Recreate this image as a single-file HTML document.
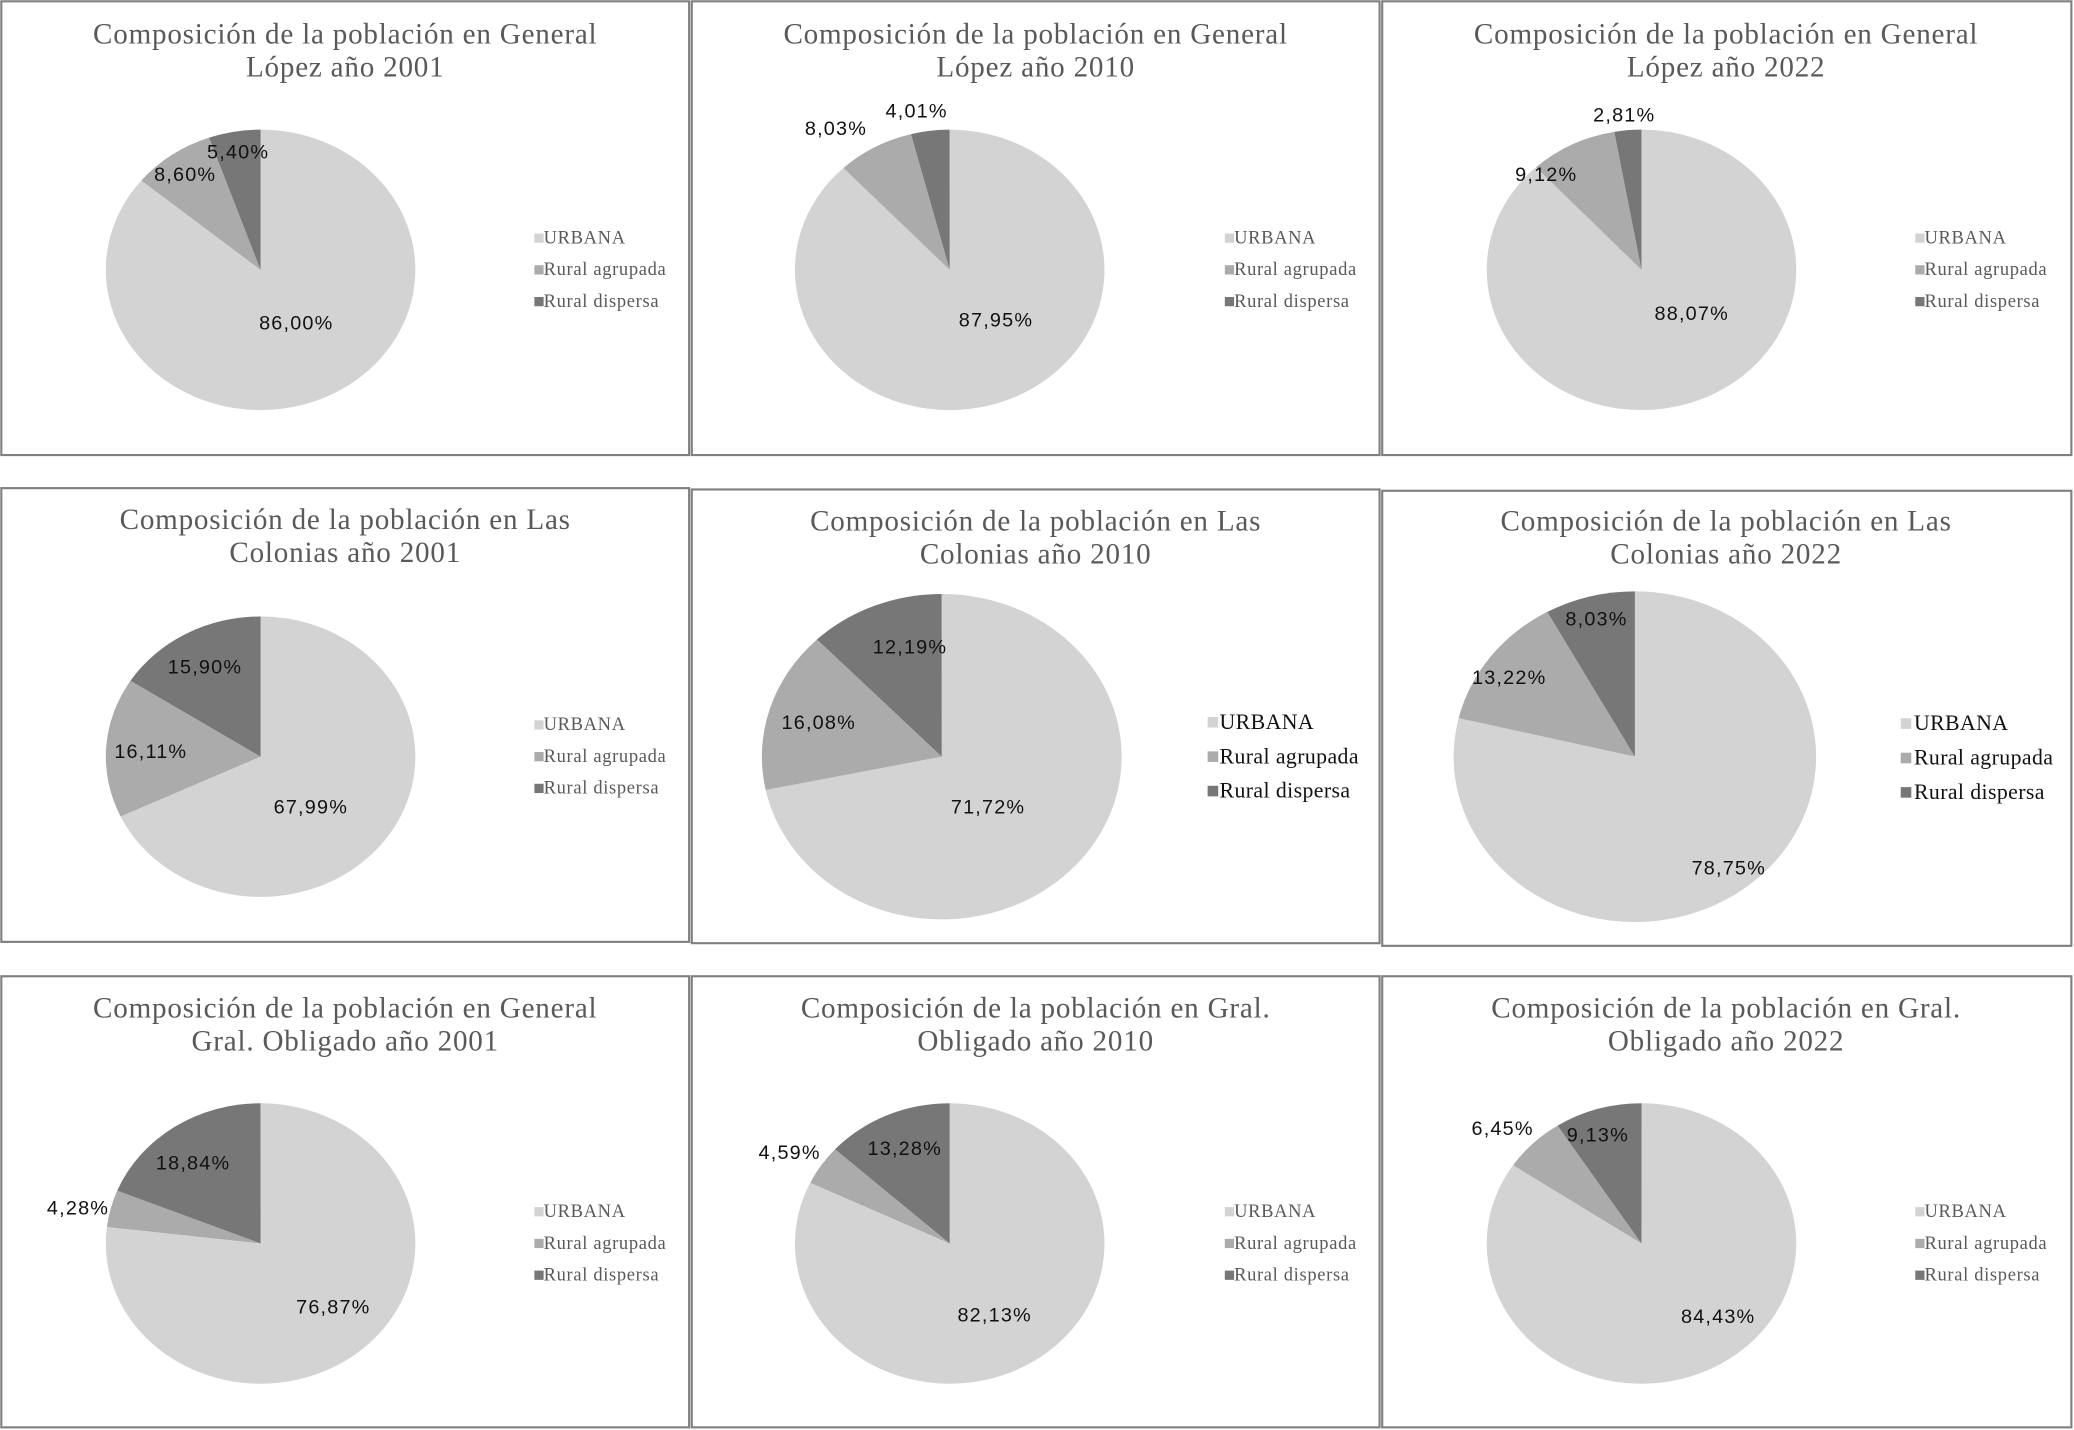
<!DOCTYPE html>
<html><head><meta charset="utf-8"><style>
html,body{margin:0;padding:0;background:#fff;}
svg{display:block}
.t{font-family:"Liberation Serif",serif;font-size:22px;letter-spacing:0.6px;fill:#595959;text-anchor:middle}
.l{font-family:"Liberation Sans",sans-serif;font-size:15px;letter-spacing:0.9px;fill:#111;text-anchor:middle}
.g{font-family:"Liberation Serif",serif;font-size:14px;letter-spacing:0.5px;fill:#595959}
.g2{font-family:"Liberation Serif",serif;font-size:16.5px;letter-spacing:0.3px;fill:#111}
</style></head><body>
<svg id="s" width="2074" height="1430" viewBox="0 0 1568 1081" preserveAspectRatio="none" xmlns="http://www.w3.org/2000/svg">
<g fill="none" stroke="#7f7f7f" stroke-width="1.6">
<rect x="1" y="1" width="520" height="343"/><rect x="523" y="1" width="520" height="343"/><rect x="1045" y="1" width="521" height="343"/>
<rect x="1" y="369" width="520" height="343"/><rect x="523" y="370" width="520" height="343"/><rect x="1045" y="371" width="521" height="344"/>
<rect x="1" y="738" width="520" height="341"/><rect x="523" y="738" width="520" height="341"/><rect x="1045" y="738" width="521" height="341"/>
</g>
<g id="pies"></g>
<text class="t" x="261" y="33">Composición de la población en General</text><text class="t" x="261" y="58">López año 2001</text>
<text class="t" x="783" y="33">Composición de la población en General</text><text class="t" x="783" y="58">López año 2010</text>
<text class="t" x="1305" y="33">Composición de la población en General</text><text class="t" x="1305" y="58">López año 2022</text>
<text class="t" x="261" y="400">Composición de la población en Las</text><text class="t" x="261" y="425">Colonias año 2001</text>
<text class="t" x="783" y="401">Composición de la población en Las</text><text class="t" x="783" y="426">Colonias año 2010</text>
<text class="t" x="1305" y="401">Composición de la población en Las</text><text class="t" x="1305" y="426">Colonias año 2022</text>
<text class="t" x="261" y="769">Composición de la población en General</text><text class="t" x="261" y="794">Gral. Obligado año 2001</text>
<text class="t" x="783" y="769">Composición de la población en Gral.</text><text class="t" x="783" y="794">Obligado año 2010</text>
<text class="t" x="1305" y="769">Composición de la población en Gral.</text><text class="t" x="1305" y="794">Obligado año 2022</text>
<g class="l">
<text x="180" y="120">5,40%</text><text x="140" y="137">8,60%</text><text x="224" y="249">86,00%</text>
<text x="632" y="102">8,03%</text><text x="693" y="89">4,01%</text><text x="753" y="247">87,95%</text>
<text x="1169" y="137">9,12%</text><text x="1228" y="92">2,81%</text><text x="1279" y="242">88,07%</text>
<text x="155" y="509">15,90%</text><text x="114" y="573">16,11%</text><text x="235" y="615">67,99%</text>
<text x="688" y="494">12,19%</text><text x="619" y="551">16,08%</text><text x="747" y="615">71,72%</text>
<text x="1207" y="473">8,03%</text><text x="1141" y="517">13,22%</text><text x="1307" y="661">78,75%</text>
<text x="146" y="884">18,84%</text><text x="59" y="918">4,28%</text><text x="252" y="993">76,87%</text>
<text x="684" y="873">13,28%</text><text x="597" y="876">4,59%</text><text x="752" y="999">82,13%</text>
<text x="1208" y="863">9,13%</text><text x="1136" y="858">6,45%</text><text x="1299" y="1000">84,43%</text>
</g>
<g id="leg"></g>
<g class="g">
<text x="411" y="184">URBANA</text><text x="411" y="208">Rural agrupada</text><text x="411" y="232">Rural dispersa</text>
<text x="933" y="184">URBANA</text><text x="933" y="208">Rural agrupada</text><text x="933" y="232">Rural dispersa</text>
<text x="1455" y="184">URBANA</text><text x="1455" y="208">Rural agrupada</text><text x="1455" y="232">Rural dispersa</text>
<text x="411" y="552">URBANA</text><text x="411" y="576">Rural agrupada</text><text x="411" y="600">Rural dispersa</text>
<text x="411" y="920">URBANA</text><text x="411" y="944">Rural agrupada</text><text x="411" y="968">Rural dispersa</text>
<text x="933" y="920">URBANA</text><text x="933" y="944">Rural agrupada</text><text x="933" y="968">Rural dispersa</text>
<text x="1455" y="920">URBANA</text><text x="1455" y="944">Rural agrupada</text><text x="1455" y="968">Rural dispersa</text>
</g>
<g class="g2">
<text x="922" y="551">URBANA</text><text x="922" y="577">Rural agrupada</text><text x="922" y="603">Rural dispersa</text>
<text x="1447" y="552">URBANA</text><text x="1447" y="578">Rural agrupada</text><text x="1447" y="604">Rural dispersa</text>
</g>
</svg>
<script>
var P=[[197,204,117,106,86,8.6,5.4],[718,204,117,106,87.95,8.03,4.01],[1241,204,117,106,88.07,9.12,2.81],
[197,572,117,106,67.99,16.11,15.9],[712,572,136,123,71.72,16.08,12.19],[1236,572,137,125,78.75,13.22,8.03],
[197,940,117,106,76.87,4.28,18.84],[718,940,117,106,82.13,4.59,13.28],[1241,940,117,106,84.43,6.45,9.13]];
var C=["#d3d3d3","#ababab","#777777"],h="";
function pt(p,a){a=a/100*2*Math.PI;return (p[0]+p[2]*Math.sin(a)).toFixed(2)+","+(p[1]-p[3]*Math.cos(a)).toFixed(2);}
P.forEach(function(p){var s=0;for(var i=0;i<3;i++){var v=p[4+i],e=s+v;
h+='<path fill="'+C[i]+'" d="M'+p[0]+','+p[1]+' L'+pt(p,s)+' A'+p[2]+','+p[3]+' 0 '+(v>50?1:0)+' 1 '+pt(p,e)+' Z"/>';s=e;}});
document.getElementById("pies").innerHTML=h;
var L=[[404,180,7],[926,180,7],[1448,180,7],[404,548,7],[404,916,7],[926,916,7],[1448,916,7],[913,546,8],[1437,547,8]],g="";
L.forEach(function(q){var d=q[2]==8?26:24;for(var i=0;i<3;i++)g+='<rect x="'+q[0]+'" y="'+(q[1]+i*d-q[2]/2)+'" width="'+q[2]+'" height="'+q[2]+'" fill="'+C[i]+'"/>';});
document.getElementById("leg").innerHTML=g;
</script>
</body></html>
